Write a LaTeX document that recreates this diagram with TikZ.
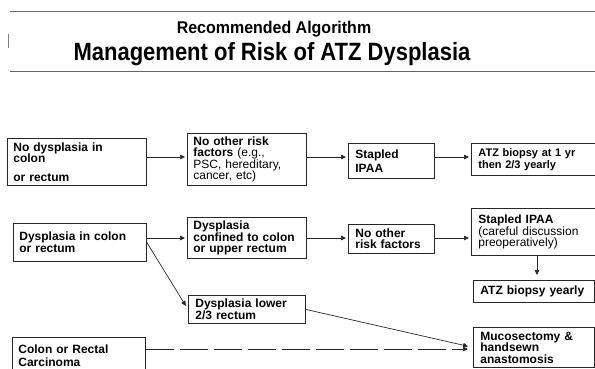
\documentclass[tikz,border=0pt]{standalone}
\usepackage{fontspec}
\setmainfont{Liberation Sans}
\usetikzlibrary{arrows.meta}
\begin{document}
\begin{tikzpicture}[x=1pt,y=-1pt,
  box/.style={draw=black!85, line width=0.8pt, inner sep=0pt, anchor=north west,
    align=left, font=\fontsize{12}{11.5}\selectfont\bfseries},
  arr/.style={draw=black!85, line width=0.7pt, shorten >=2pt,
    -{Triangle[length=5pt,width=4.5pt]}},
  rulel/.style={draw=black!60, line width=1pt},
  ttl/.style={anchor=base, inner sep=0pt, font=\bfseries}]
\useasboundingbox (0,0) rectangle (595,368);
% title
\draw[rulel] (10,11) coordinate (t1) -- (595,11) coordinate (t2);
\draw[rulel] (10,71) coordinate (t3) -- (595,71) coordinate (t4);
\draw[draw=black!50, line width=0.6pt] (8,34) coordinate (m1) -- (8,48) coordinate (m2);
\node[ttl] (T1) at (274,33) {\fontsize{17}{17}\selectfont\scalebox{0.94}[1]{Recommended Algorithm}};
\node[ttl] (T2) at (272,60) {\fontsize{25}{25}\selectfont\scalebox{0.88}[1]{Management of Risk of ATZ Dysplasia}};
% row 1
\node[box, minimum width=139pt, minimum height=47pt, text width=127pt] (B1) at (7,138)
  {No dysplasia in\\ colon\\[7pt] or rectum};
\node[box, minimum width=119pt, minimum height=52pt, text width=107pt] (B2) at (187,133)
  {No other risk\\ factors {\mdseries (e.g.,}\\ {\mdseries PSC, hereditary,}\\ {\mdseries cancer, etc)}};
\node[box, minimum width=86pt, minimum height=35pt, text width=72pt] (B3) at (348,143)
  {Stapled\\[2pt] IPAA};
\node[box, minimum width=126pt, minimum height=32pt, text width=112pt,
  font=\fontsize{11}{12}\selectfont\bfseries] (B4) at (471,143)
  {ATZ biopsy at 1 yr\\ then 2/3 yearly};
% row 2
\node[box, minimum width=133pt, minimum height=38pt, text width=121pt] (B5) at (13,223)
  {Dysplasia in colon\\ or rectum};
\node[box, minimum width=119pt, minimum height=41pt, text width=107pt] (B6) at (187,217)
  {Dysplasia\\ confined to colon\\ or upper rectum};
\node[box, minimum width=86pt, minimum height=29pt, text width=72pt] (B7) at (348,224)
  {No other\\ risk factors};
\node[box, minimum width=126pt, minimum height=47pt, text width=112pt] (B8) at (471,208)
  {Stapled IPAA\\ {\mdseries (careful discussion}\\ {\mdseries preoperatively)}};
\node[box, minimum width=121pt, minimum height=22pt, text width=107pt] (B10) at (473,280)
  {ATZ biopsy yearly};
% lower
\node[box, minimum width=117pt, minimum height=28pt, text width=103pt] (B9) at (188,295)
  {Dysplasia lower\\ 2/3 rectum};
\node[box, minimum width=121pt, minimum height=40pt, text width=107pt] (B11) at (473,327)
  {Mucosectomy \&\\ handsewn\\ anastomosis};
\node[box, minimum width=133pt, minimum height=37pt, text width=121pt] (B12) at (12,337)
  {Colon or Rectal\\[1pt] Carcinoma};
\draw[draw=white, line width=1.2pt] (B12.south west) -- (B12.south east);
% connectors
\coordinate (r1) at (0,157);
\coordinate (r2) at (0,238);
\coordinate (r3) at (0,349);
\coordinate (c1) at (537,0);
\draw[arr] (B1.east |- r1) -- (B2.west |- r1);
\draw[arr] (B2.east |- r1) -- (B3.west |- r1);
\draw[arr] (B3.east |- r1) -- (B4.west |- r1);
\draw[arr] (B5.east |- r2) -- (B6.west |- r2);
\draw[arr] (B6.east |- r2) -- (B7.west |- r2);
\draw[arr] (B7.east |- r2) -- (B8.west |- r2);
\draw[arr, shorten >=4pt] (B5.east) -- (B9.west);
\draw[arr, shorten >=5pt] (B8.south -| c1) -- (B10.north -| c1);
\draw[arr, shorten >=5pt] (B9.east) -- (B11.west);
\draw[arr, shorten >=5pt, dash pattern=on 28pt off 6pt] (B12.east |- r3) -- (B11.west |- r3);
\end{tikzpicture}
\end{document}
